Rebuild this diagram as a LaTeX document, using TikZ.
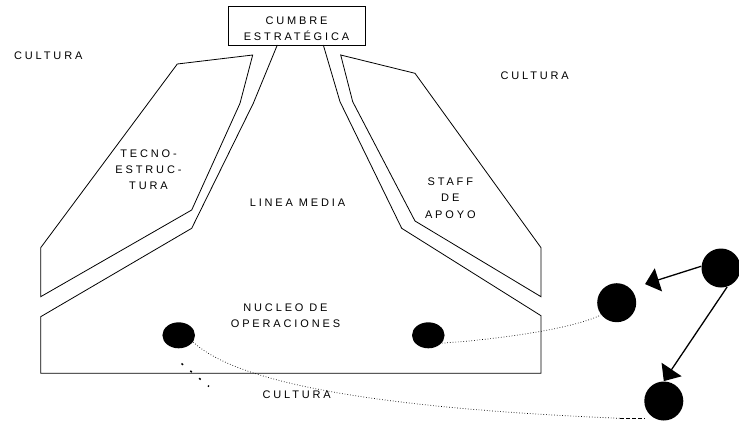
\documentclass[tikz,border=0pt]{standalone}
\usepackage{fontspec}
\setmainfont{Liberation Sans}[LetterSpace=26]
\usetikzlibrary{arrows.meta,shapes.geometric}

\begin{document}
\begin{tikzpicture}[x=1pt,y=-1pt,line width=0.8pt,
  font=\fontsize{11}{16.3}\selectfont,
  txt/.style={inner sep=0pt,align=center},
  blob/.style={circle,fill=black,inner sep=0pt,minimum size=39pt},
  oval/.style={ellipse,fill=black,inner sep=0pt,minimum width=32.6pt,minimum height=26pt},
  link/.style={line width=1.3pt,-{Triangle[length=14pt,width=24pt]}},
  trail/.style={dotted,line width=0.7pt}]
\useasboundingbox (0,0) rectangle (739,421);
\node[draw,inner sep=0pt,minimum width=137pt,minimum height=39pt,
  label={[txt,yshift=-3.2pt]center:CUMBRE\\ESTRATÉGICA}] (cumbre) at (296.5,25.5) {};
 \draw (277.3,45)--(253.3,103.3)--(191.7,228.3)--(40.7,316.7)--(40.7,373.3)--(541,373.3)--(541,315.7)--(401.7,228.3)--(340,101.7)--(323.3,45);
 \draw (252.7,55)--(177.3,64)--(40.7,247.7)--(40.7,296.7)--(191.7,210)--(240,103.3)--cycle;
 \draw (340.7,55)--(415,73.3)--(541,247.7)--(541,296.7)--(415,221)--(352.7,101.7)--cycle;
\node[txt] (cultA) at (48.3,56) {CULTURA};
\node[txt] (cultB) at (534.7,76) {CULTURA};
\node[txt] (cultC) at (296.7,394.3) {CULTURA};
\node[txt] (tecno) at (148.5,169.9) {TECNO-\\ESTRUC-\\TURA};
\node[txt] (linea) at (297.5,202.7) {LINEA MEDIA};
\node[txt] (staff) at (450.3,198) {STAFF\\DE\\APOYO};
\node[txt] (nucleo) at (285.5,315.8) {NUCLEO DE\\OPERACIONES};
\node[oval] (opA) at (178.7,335.3) {};
\node[oval] (opB) at (428.3,335.3) {};
\node[blob] (mid) at (616.7,302.7) {};
\node[blob] (top) at (721,268) {};
\node[blob] (low) at (663.8,401) {};
\coordinate (knee) at (620,418.3);
\coordinate (tail) at (645,418.3);
 \draw[link,shorten >=15pt] (top.175)--(mid.45);
 \draw[link] (top.-72)--(low.north);
 \draw[trail] (opB.-30) .. controls (490,340) and (570,330) .. (mid.218);
 \draw[trail] (opA.-25) .. controls (245,390) and (420,410) .. (knee);
 \draw[line width=1.3pt,dash pattern=on 4pt off 2pt] (knee)--(tail);
 \draw[line width=1.5pt,dash pattern=on 2pt off 9.5pt] (181.5,363.5)--(209,386.5);
\end{tikzpicture}
\end{document}
